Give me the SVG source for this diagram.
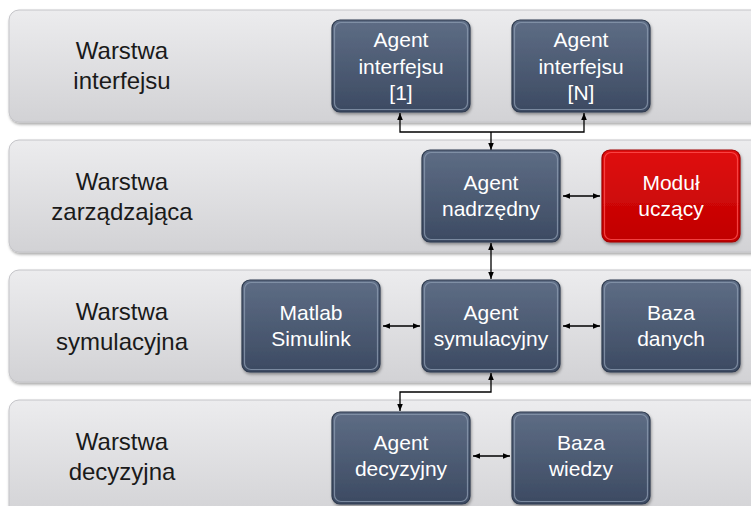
<svg xmlns="http://www.w3.org/2000/svg" width="751" height="506" viewBox="0 0 751 506">
<defs>
  <linearGradient id="band" x1="0" y1="0" x2="0" y2="1">
    <stop offset="0" stop-color="#ececee"/>
    <stop offset="1" stop-color="#d2d2d5"/>
  </linearGradient>
  <linearGradient id="blue" x1="0" y1="0" x2="0" y2="1">
    <stop offset="0" stop-color="#5e6d85"/>
    <stop offset="1" stop-color="#3c4a62"/>
  </linearGradient>
  <linearGradient id="red" x1="0" y1="0" x2="0" y2="1">
    <stop offset="0" stop-color="#e01010"/>
    <stop offset="1" stop-color="#c00000"/>
  </linearGradient>
  <filter id="sh" x="-10%" y="-10%" width="120%" height="130%">
    <feDropShadow dx="1" dy="2" stdDeviation="1.5" flood-color="#000" flood-opacity="0.35"/>
  </filter>
  <marker id="ah" viewBox="0 0 10 10" refX="10" refY="5" markerWidth="7" markerHeight="7" orient="auto-start-reverse" markerUnits="userSpaceOnUse">
    <path d="M0,1 L10,5 L0,9 Z" fill="#000"/>
  </marker>
</defs>
<style>
  .band{fill:url(#band);stroke:#c4c4c8;stroke-width:1;filter:url(#sh)}
  .lbl{font-family:"Liberation Sans",Arial,sans-serif;font-size:24px;fill:#1a1a1a;text-anchor:middle}
  .node{fill:url(#blue);stroke:#2e3a4e;stroke-width:1.2;filter:url(#sh)}
  .hl{fill:none;stroke:#8a98ae;stroke-width:1.2;opacity:0.8}
  .rnode{fill:url(#red);stroke:#a00000;stroke-width:1.2;filter:url(#sh)}
  .rhl{fill:none;stroke:#ff5050;stroke-width:1.2;opacity:0.8}
  .nt{font-family:"Liberation Sans",Arial,sans-serif;font-size:21px;fill:#ffffff;text-anchor:middle}
  .c{fill:none;stroke:#000;stroke-width:1.3}
</style>
<rect width="751" height="506" fill="#ffffff"/>

<g id="layer-interfejsu">
  <rect class="band" x="9" y="10" width="760" height="112" rx="10"/>
  <text class="lbl" x="122" y="59">Warstwa</text>
  <text class="lbl" x="122" y="89">interfejsu</text>
</g>
<g id="layer-zarzadzajaca">
  <rect class="band" x="9" y="140" width="760" height="112" rx="10"/>
  <text class="lbl" x="122" y="190">Warstwa</text>
  <text class="lbl" x="122" y="220">zarządzająca</text>
</g>
<g id="layer-symulacyjna">
  <rect class="band" x="9" y="270" width="760" height="112" rx="10"/>
  <text class="lbl" x="122" y="320">Warstwa</text>
  <text class="lbl" x="122" y="350">symulacyjna</text>
</g>
<g id="layer-decyzyjna">
  <rect class="band" x="9" y="400" width="760" height="120" rx="10"/>
  <text class="lbl" x="122" y="450">Warstwa</text>
  <text class="lbl" x="122" y="480">decyzyjna</text>
</g>

<g id="connectors">
  <path class="c" d="M491,132 V150" marker-end="url(#ah)"/>
  <path class="c" d="M400,113 V132 H584 V113" marker-start="url(#ah)" marker-end="url(#ah)"/>
  <path class="c" d="M563,196 H600" marker-start="url(#ah)" marker-end="url(#ah)"/>
  <path class="c" d="M491,243 V279" marker-start="url(#ah)" marker-end="url(#ah)"/>
  <path class="c" d="M383,326 H420" marker-start="url(#ah)" marker-end="url(#ah)"/>
  <path class="c" d="M563,326 H600" marker-start="url(#ah)" marker-end="url(#ah)"/>
  <path class="c" d="M491,373 V392 H400 V411" marker-start="url(#ah)" marker-end="url(#ah)"/>
  <path class="c" d="M473,456 H510" marker-start="url(#ah)" marker-end="url(#ah)"/>
</g>

<g id="agent-interfejsu-1">
  <rect class="node" x="332" y="20" width="138" height="92" rx="8"/>
  <rect class="hl" x="334.5" y="22.5" width="133" height="87" rx="6.5"/>
  <text class="nt" x="401" y="47">Agent</text>
  <text class="nt" x="401" y="74">interfejsu</text>
  <text class="nt" x="401" y="100">[1]</text>
</g>
<g id="agent-interfejsu-n">
  <rect class="node" x="512" y="20" width="138" height="92" rx="8"/>
  <rect class="hl" x="514.5" y="22.5" width="133" height="87" rx="6.5"/>
  <text class="nt" x="581" y="47">Agent</text>
  <text class="nt" x="581" y="74">interfejsu</text>
  <text class="nt" x="581" y="100">[N]</text>
</g>
<g id="agent-nadrzedny">
  <rect class="node" x="422" y="150" width="138" height="92" rx="8"/>
  <rect class="hl" x="424.5" y="152.5" width="133" height="87" rx="6.5"/>
  <text class="nt" x="491" y="190">Agent</text>
  <text class="nt" x="491" y="216">nadrzędny</text>
</g>
<g id="modul-uczacy">
  <rect class="rnode" x="602" y="150" width="138" height="92" rx="8"/>
  <rect class="rhl" x="604.5" y="152.5" width="133" height="87" rx="6.5"/>
  <text class="nt" x="671" y="190">Moduł</text>
  <text class="nt" x="671" y="216">uczący</text>
</g>
<g id="matlab-simulink">
  <rect class="node" x="242" y="280" width="138" height="92" rx="8"/>
  <rect class="hl" x="244.5" y="282.5" width="133" height="87" rx="6.5"/>
  <text class="nt" x="311" y="320">Matlab</text>
  <text class="nt" x="311" y="346">Simulink</text>
</g>
<g id="agent-symulacyjny">
  <rect class="node" x="422" y="280" width="138" height="92" rx="8"/>
  <rect class="hl" x="424.5" y="282.5" width="133" height="87" rx="6.5"/>
  <text class="nt" x="491" y="320">Agent</text>
  <text class="nt" x="491" y="346">symulacyjny</text>
</g>
<g id="baza-danych">
  <rect class="node" x="602" y="280" width="138" height="92" rx="8"/>
  <rect class="hl" x="604.5" y="282.5" width="133" height="87" rx="6.5"/>
  <text class="nt" x="671" y="320">Baza</text>
  <text class="nt" x="671" y="346">danych</text>
</g>
<g id="agent-decyzyjny">
  <rect class="node" x="332" y="412" width="138" height="92" rx="8"/>
  <rect class="hl" x="334.5" y="414.5" width="133" height="87" rx="6.5"/>
  <text class="nt" x="401" y="450">Agent</text>
  <text class="nt" x="401" y="476">decyzyjny</text>
</g>
<g id="baza-wiedzy">
  <rect class="node" x="512" y="412" width="138" height="92" rx="8"/>
  <rect class="hl" x="514.5" y="414.5" width="133" height="87" rx="6.5"/>
  <text class="nt" x="581" y="450">Baza</text>
  <text class="nt" x="581" y="476">wiedzy</text>
</g>
</svg>
